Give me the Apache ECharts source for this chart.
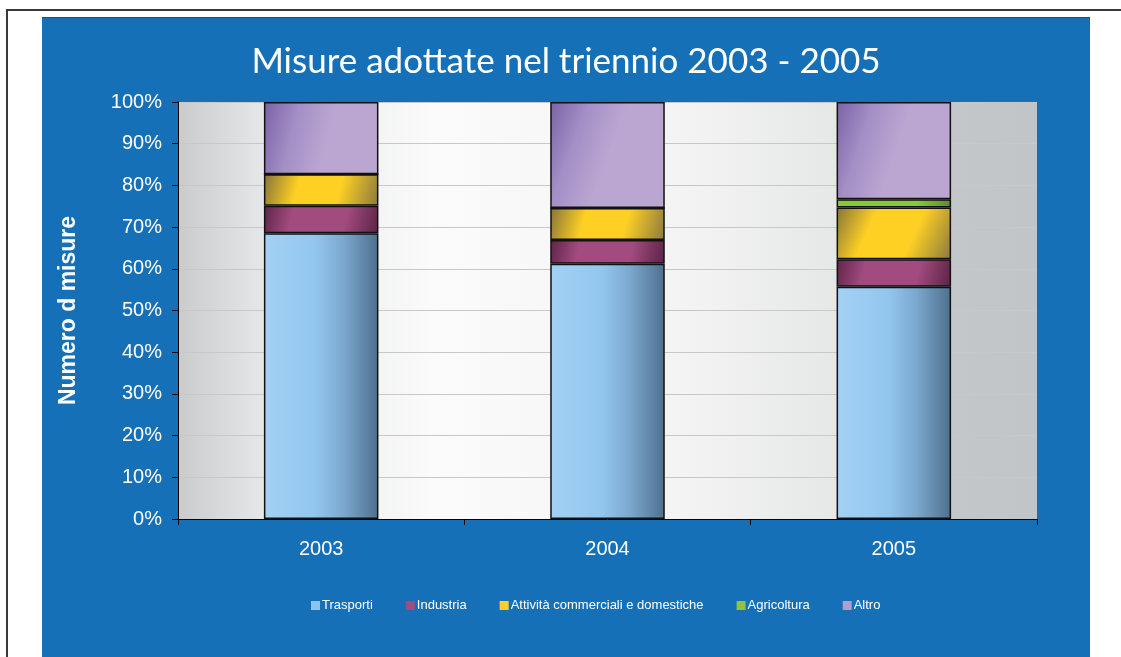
<!DOCTYPE html>
<html>
<head>
<meta charset="utf-8">
<script src="https://cdn.jsdelivr.net/npm/echarts@6/dist/echarts.min.js"></script>
<style>
html,body{margin:0;padding:0;background:#fff;width:1121px;height:657px;overflow:hidden;}
#frame{position:absolute;left:6px;top:9px;width:1120px;height:660px;border-left:2px solid #3a3a3a;border-top:2px solid #3a3a3a;}
#chart{position:absolute;left:42px;top:17px;width:1048px;height:640px;background:#1570b8;border-top:1px solid #1a4e80;}
</style>
</head>
<body>
<div id="frame"></div>
<div id="chart"></div>
<script>
var categories = ['2003', '2004', '2005'];
var trasporti = [68.5, 61.2, 55.7];
var industria = [6.6, 5.7, 6.6];
var attivita = [7.6, 7.7, 12.4];
var agricoltura = [0, 0, 2.0];
var altro = [17.3, 25.4, 23.3];
var yTicks = [0, 10, 20, 30, 40, 50, 60, 70, 80, 90, 100];

function grad(x2, y2, stops) {
  return new echarts.graphic.LinearGradient(0, 0, x2, y2, stops.map(function (s) { return { offset: s[0], color: s[1] }; }));
}

var chart = echarts.init(document.getElementById('chart'), null, { renderer: 'canvas' });
function series(name, data, color) {
  return {
    name: name, type: 'bar', stack: 'tot', data: data, barWidth: '40%',
    itemStyle: { color: color, borderColor: '#111', borderWidth: 1.5 }
  };
}
var option = {
  animation: false,
  title: {
    text: 'Misure adottate nel triennio 2003 - 2005',
    left: 'center', top: 21,
    textStyle: { color: '#fff', fontSize: 35, fontWeight: 'normal', fontFamily: 'Lato' }
  },
  legend: {
    left: 264, top: 576, itemWidth: 9, itemHeight: 9, itemGap: 33, icon: 'rect',
    itemStyle: { borderWidth: 0 },
    textStyle: { color: '#fff', fontSize: 13, fontFamily: 'Liberation Sans', padding: [0, 0, 0, -3] },
    data: [
      { name: 'Trasporti', itemStyle: { color: '#8fc3ec' } },
      { name: 'Industria', itemStyle: { color: '#a24b7f' } },
      { name: 'Attività commerciali e domestiche', itemStyle: { color: '#fed024' } },
      { name: 'Agricoltura', itemStyle: { color: '#8cc63f' } },
      { name: 'Altro', itemStyle: { color: '#b39ccf' } }
    ]
  },
  grid: {
    left: 136, top: 84, right: 53, bottom: 139, show: true, borderWidth: 0,
    backgroundColor: new echarts.graphic.LinearGradient(0, 0, 1, 0, [
      { offset: 0, color: '#c9cbcd' }, { offset: 0.1, color: '#e6e7e8' }, { offset: 0.3, color: '#fbfbfb' },
      { offset: 0.6, color: '#f3f3f3' }, { offset: 0.85, color: '#e0e1e2' }, { offset: 0.9, color: '#c4c7ca' }, { offset: 1, color: '#c2c5c8' }
    ])
  },
  xAxis: {
    type: 'category', data: categories,
    axisLine: { lineStyle: { color: '#000', width: 1 } },
    axisTick: { show: true, length: 6, lineStyle: { color: '#000' } },
    axisLabel: { color: '#fff', fontSize: 20, fontFamily: 'Liberation Sans', margin: 20 }
  },
  yAxis: {
    type: 'value', min: 0, max: 100, interval: 10,
    name: 'Numero d misure', nameLocation: 'middle', nameGap: 98,
    nameTextStyle: { color: '#fff', fontSize: 23, fontWeight: 'bold', fontFamily: 'Liberation Sans' },
    axisLine: { show: true, lineStyle: { color: '#000', width: 1 } },
    axisTick: { show: true, length: 6, lineStyle: { color: '#000' } },
    axisLabel: {
      color: '#fff', fontSize: 20, fontFamily: 'Liberation Sans', margin: 16,
      formatter: function (v) { return yTicks.indexOf(v) >= 0 ? v + '%' : ''; }
    },
    splitLine: { show: true, lineStyle: { color: '#c8c8c8', width: 1 } }
  },
  series: [
    series('Trasporti', trasporti, grad(1, 0, [[0, '#a3d1f3'], [0.45, '#93c6ee'], [0.7, '#7ba7cd'], [1, '#4e6f8d']])),
    series('Industria', industria, grad(1, 1, [[0, '#5e2447'], [0.25, '#a24b7f'], [0.7, '#a24b7f'], [1, '#5a2344']])),
    series('Attività commerciali e domestiche', attivita, grad(1, 1, [[0, '#85733a'], [0.3, '#fed024'], [0.65, '#fed024'], [1, '#8a793f']])),
    series('Agricoltura', agricoltura, grad(1, 1, [[0, '#8cc63f'], [0.7, '#8cc63f'], [1, '#5e8a2a']])),
    series('Altro', altro, grad(1, 0.4, [[0, '#7a62a6'], [0.3, '#a48fc6'], [0.6, '#bba6d2'], [1, '#bba6d2']]))
  ]
};
chart.setOption(option);
</script>
</body>
</html>
